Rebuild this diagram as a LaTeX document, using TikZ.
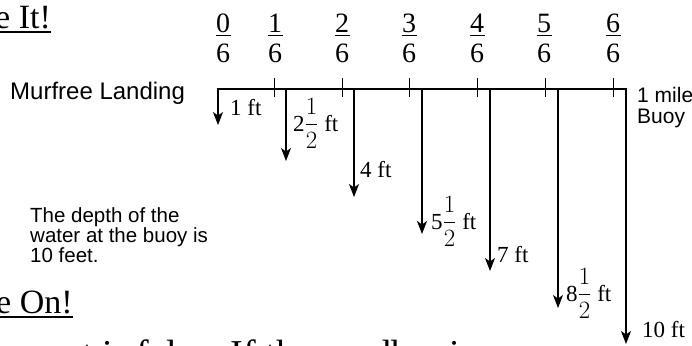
\documentclass[tikz,border=0pt]{standalone}
\usepackage{amsmath}
\usepackage{fontspec}
\setmainfont{Liberation Serif}
\newfontfamily\arialfont{Liberation Sans}
\usetikzlibrary{arrows.meta}
\begin{document}
\begin{tikzpicture}[x=1pt,y=-1pt,
  title/.style={inner sep=0pt, anchor=base west, font=\fontsize{34}{34}\selectfont},
  uline/.style={line width=1.4pt},
  fracdigit/.style={inner sep=0pt, anchor=base, font=\fontsize{28}{28}\selectfont},
  fracbar/.style={line width=1.3pt},
  axisline/.style={line width=2.8pt},
  tickmark/.style={line width=0.9pt},
  depth/.style={line width=1.1pt, -{Stealth[length=13pt,width=10pt,inset=3.5pt]}},
  lbl/.style={inner sep=0pt, anchor=base west, font=\fontsize{23}{23}\selectfont},
  sanslbl/.style={inner sep=0pt, anchor=base west, font=\arialfont\fontsize{21}{21}\selectfont},
  note/.style={inner sep=0pt, anchor=base west, font=\arialfont\fontsize{20.5}{20.5}\selectfont}]
\useasboundingbox (0,0) rectangle (692,345);
\clip (0,0) rectangle (692,345);

% titles (cut off at the left edge)
\node[title] (t1) at (-5,29) {e It!};
\draw[uline] ([yshift=-3pt]t1.base west) -- ([yshift=-3pt]t1.base east);
\node[title] (t2) at (-4,313) {e On!};
\draw[uline] ([yshift=-4pt]t2.base west) -- ([yshift=-4pt]t2.base east);
\node[title, font=\fontsize{38}{38}\selectfont] (t3) at (-11,366) {tement is false. If the sandbar is};

% fractions above the line
\foreach \k/\x in {0/223,1/275,2/342,3/409,4/477,5/544,6/613} {
  \node[fracdigit] (num\k) at (\x,33) {\k};
  \node[fracdigit] (den\k) at (\x,62) {6};
  \draw[fracbar] (\x-7.5,35.5) -- (\x+7.5,35.5);
}

% the line
\coordinate (L0) at (218,89);
\coordinate (L6) at (626,89);
\draw[axisline] (L0) -- (L6);
\foreach \x in {274,342,409,477,545,613} {
  \draw[tickmark] (\x,78) -- (\x,97);
}

% depth arrows
\foreach \i/\x/\y in {0/218/125,1/286/161,2/354/197,3/422/234,4/490/271,5/558/308,6/626/344} {
  \coordinate (top\i) at (\x,88);
  \coordinate (tip\i) at (\x,\y);
  \draw[depth] (top\i) -- (tip\i);
}

% depth labels
\node[lbl] (d0) at (230,115) {1 ft};
\node[lbl] (d1) at (293,131) {2$\dfrac{1}{2}$ ft};
\node[lbl] (d2) at (360,177) {4 ft};
\node[lbl] (d3) at (431,229) {5$\dfrac{1}{2}$ ft};
\node[lbl] (d4) at (497,262) {7 ft};
\node[lbl] (d5) at (566,301) {8$\dfrac{1}{2}$ ft};
\node[lbl] (d6) at (642,337) {10 ft};

% side texts
\node[sanslbl, font=\arialfont\fontsize{24}{24}\selectfont] (start) at (10,99) {Murfree Landing};
\node[sanslbl] (end1) at (637,102) {1 mile};
\node[sanslbl] (end2) at (637,123) {Buoy};
\node[note] (n1) at (30,222) {The depth of the};
\node[note] (n2) at (30,242) {water at the buoy is};
\node[note] (n3) at (30,262) {10 feet.};
\end{tikzpicture}
\end{document}
